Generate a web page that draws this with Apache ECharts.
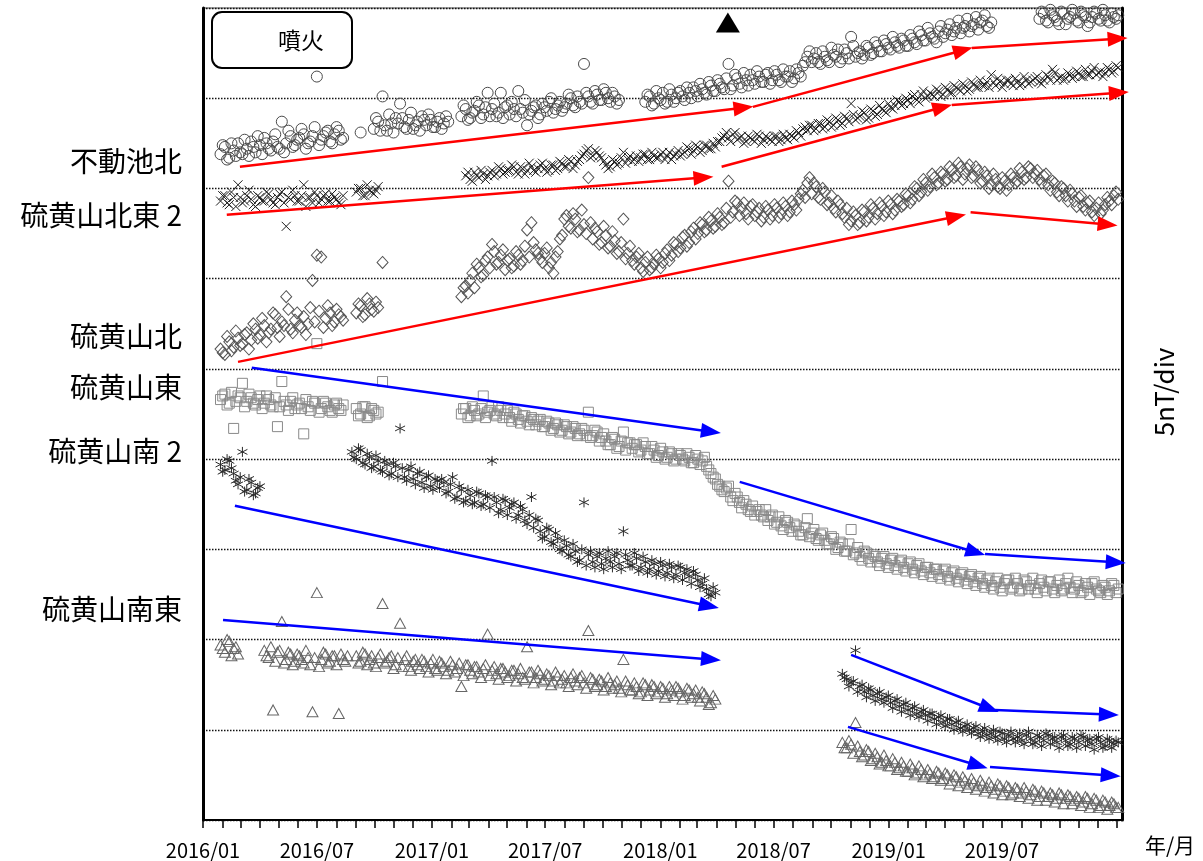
<!DOCTYPE html>
<html>
<head>
<meta charset="utf-8">
<script src="https://cdn.jsdelivr.net/npm/echarts@6/dist/echarts.min.js"></script>
<style>
  html, body { margin: 0; padding: 0; background: #fff; }
  #chart { width: 1203px; height: 861px; }
</style>
</head>
<body>
<div id="chart"></div>
<script>
// Magnetic total-force samples (nT, offset so each station sits in its own band).
// Each station is a list of segments: [first week index counted from 2016-01-01, values...],
// one value per week; the "Mid" lists hold the samples taken half a week later.
const fudoikeKita = [
  [4, [36.9,37.3,36.7,37.1,37.5,36.9,37.2,37.6,37.0,37.4,37.8,37.2,37.6,37.3,38.7,37.5,37.9,37.4,37.8,38.0,37.5,37.9,41.2,37.7,38.1,37.6,38.0,38.2,37.8]],
  [36, [38.1]],
  [39, [38.3,38.7,40.1,38.2,38.6,38.9,39.7,38.4,38.8,38.3,38.7,39.0,38.5,38.8,38.4,38.9,38.6,38.7]],
  [59, [39.0,39.4,38.9,39.3,39.6,39.1,40.3,39.4,39.0,40.3,39.5,39.1,39.4,40.4,39.2,38.5,39.3,39.6,39.1,39.5,39.8,39.2,39.6,39.3,39.7,40.0,39.5,39.8,41.9,40.1,39.7,40.2,39.9,40.3,39.8,40.1,39.9]],
  [101, [39.8,40.1,39.7,40.0,40.3,39.8,40.2,40.0,40.4,39.9,
         40.3,40.6,40.1,40.5,40.2,40.7,40.4,40.8,40.5,41.9,
         40.7,41.1,40.6,41.0,41.3,40.8,41.2,40.9,41.4,41.0,
         41.3,40.9,41.2,41.5,41.1,41.4,41.8,42.3,42.0,42.5,
         41.9,42.3,42.0,42.4,42.7,42.2,42.5,43.4,42.3,42.6,
         42.4,42.8,42.5,42.9,42.6,43.0,42.7,43.1,42.8,43.2,
         42.9,43.3,43.0,43.5,43.2,43.6,43.3,43.7,43.4,43.8,
         43.5,43.9,43.6,44.0,43.7,44.1,43.8,44.3,44.0,44.2]],
  [191, [44.4,44.7,44.2,44.6,44.3,44.8,44.1,44.5,44.7,44.2,44.6,44.0,44.5,44.7,44.3,44.6,44.2,44.5,44.6]]
];
const fudoikeKitaMid = [
  [4.5, [37.4,36.6,37.5,36.8,37.0,37.7,36.8,37.3,37.9,36.9,37.5,37.1,38.0,37.2,37.0,38.2,37.3,37.7,38.3,37.2,37.6,38.4,37.4,37.9,38.2,37.5,38.4,37.7]],
  [39.5, [38.9,38.2,38.5,39.1,38.1,38.6,38.9,38.3,39.2,38.5,38.2,38.8,39.1,38.4,38.7,38.3,39.0]],
  [59.5, [39.6,38.8,39.2,39.8,38.9,39.5,39.0,39.7,39.2,38.9,39.6,39.8,39.0,39.4,39.9,39.1,39.5,38.9,39.7,39.3,40.0,39.4,39.8,39.5,40.2,39.6,40.1,39.7,40.3,39.8,40.4,39.9,40.5,40.0,40.3,39.7]],
  [101.5, [40.2,39.6,40.4,39.9,39.7,40.5,39.8,40.3,40.1,40.6,
           40.0,40.4,40.8,40.3,40.9,40.4,41.0,40.6,41.1,40.5,
           41.3,40.8,41.4,40.7,41.0,41.5,40.9,41.3,40.8,41.5,
           41.0,41.6,41.2,40.9,41.6,41.2,42.0,42.6,42.2,42.0,
           42.6,42.1,42.8,42.3,42.0,42.7,42.2,42.9,42.5,42.2,
           42.9,42.4,43.1,42.6,43.2,42.8,43.4,42.9,43.3,42.9,
           43.5,43.1,43.7,43.2,43.9,43.4,43.1,44.0,43.6,44.1,
           43.7,44.3,43.9,44.4,44.0,44.5,44.2,44.6,43.9]],
  [191.5, [44.8,44.3,44.9,44.5,44.1,44.7,44.4,44.9,44.3,44.8,44.5,44.2,44.8,44.4,44.9,44.3,44.7,44.4]]
];

const iouzanHokuto2 = [
  [4, [34.3,34.6,34.1,34.5,35.2,34.2,34.6,34.4,34.0,34.5,34.3,34.7,34.2,34.5,34.8,32.9,34.4,34.6,34.3,35.2,34.5,34.2,34.6,34.4,34.7,34.3,34.5,34.2,34.6]],
  [35, [34.8,35.0,34.6,34.9,34.7,35.1]],
  [60, [35.7,35.5,35.9,35.6,35.8,35.7,36.0,35.8,36.1,35.9,
        36.0,36.2,35.8,36.1,36.0,36.2,35.9,36.3,36.1,36.0,
        36.3,36.1,36.4,36.2,36.5,36.3,36.6,36.9,37.2,36.8,
        37.0,36.7,36.3,36.2,36.5,36.4,37.0,36.6,36.5,36.8,
        36.7,36.9,36.6,36.8,36.7,37.0,36.8,36.6,36.9,36.8,
        37.0,37.2,37.1,37.3,37.1,37.4,37.2,37.3,37.6,37.9,
        37.8,38.0,37.7,37.9,37.6,37.8,37.6,37.9,37.7,37.8,
        37.6,37.9,37.7,37.8,38.0,37.8,38.1,38.3,38.2,38.5,
        38.3,38.6,38.4,38.7,38.5,38.8,38.6,38.9,39.7,38.8,
        39.0,39.2,38.9,39.3,39.1,39.4,39.2,39.5,39.6,39.8,
        39.7,39.9,40.1,39.9,40.2,40.0,40.3,40.1,40.4,40.2,
        40.5,40.3,40.6,40.4,40.7,40.5,40.8,40.6,40.7,40.9,
        41.3,40.7,40.9,40.8,41.0,40.7,40.9,40.8,41.0,40.9,
        41.1,40.9,41.0,41.2,41.6,41.0,41.2,41.1,41.3,41.2,
        41.4,41.2,41.3,41.5,41.3,41.5,41.4,41.6,41.5,41.7]]
];
const iouzanHokuto2Mid = [
  [4.5, [34.6,34.2,34.8,34.0,34.5,34.3,34.9,34.1,34.6,34.3,34.8,34.4,34.1,34.7,34.2,34.5,34.9,34.3,34.6,34.0,34.5,34.8,34.2,34.6,34.3,34.7,34.4,34.1]],
  [35.5, [35.0,34.6,35.2,34.8,34.9]],
  [60.5, [35.9,35.4,35.7,36.0,35.5,35.9,35.7,36.2,35.8,36.0,
          36.3,35.9,36.2,35.8,36.4,36.0,36.1,36.4,35.9,36.3,
          36.0,36.5,36.2,36.6,36.1,36.5,36.8,37.1,36.7,37.1,
          36.8,36.5,36.1,36.6,36.3,36.7,36.4,36.8,36.6,36.5,
          36.9,36.6,37.0,36.7,36.9,36.6,37.0,36.8,37.1,36.9,
          37.3,36.9,37.4,37.0,37.4,37.2,37.5,37.6,37.8,38.1,
          37.6,38.1,37.8,37.5,37.9,37.7,38.0,37.5,37.9,37.7,
          37.9,37.6,38.0,37.7,37.9,38.2,37.9,38.4,38.5,38.2,
          38.6,38.3,38.8,38.4,38.9,38.5,39.0,38.7,39.1,38.9,
          39.3,38.8,39.4,39.0,39.6,39.3,39.7,39.4,39.9,39.6,
          40.0,39.7,40.2,39.8,40.4,40.1,40.2,40.5,40.1,40.6,
          40.3,40.7,40.5,40.8,40.4,40.9,40.6,41.0,40.7,40.6,
          40.9,41.1,40.6,41.0,40.8,41.1,40.7,41.2,40.8,41.0,
          41.2,40.8,41.3,41.0,41.4,41.1,41.0,41.4,41.1,41.5,
          41.2,41.6,41.3,41.7,41.4,41.2,41.7,41.4,41.8]]
];

const iouzanKita = [
  [4, [26.1,25.8,26.5,26.2,26.7,26.4,27.0,26.6,27.2,26.9,27.4,27.0,28.1,27.3,27.6,29.0,27.2,27.7,27.4,27.9,27.5,29.9,31.3,31.2,27.8,28.1,27.6,28.0,27.7]],
  [35, [28.1,28.5,28.0,28.6,28.2,28.4,30.9]],
  [59, [29.0,29.6,29.9,29.5,30.6,30.2,31.2,31.9,30.8,31.3,
        30.5,31.1,30.7,31.3,31.0,32.7,33.1,31.6,31.1,31.4,
        30.6,30.3,31.5,32.4,33.5,32.8,33.3,32.7,33.0,35.6,
        32.2,32.6,32.0,32.4,31.8,32.1,31.5,33.3,31.4,31.0,
        31.2,30.6,30.9,30.5,30.8,31.1,30.9,31.6,31.3,31.9,
        31.7,32.4,32.0,32.8,32.5,33.0,32.7,33.2,32.9,33.4,
        33.1,35.4,33.7,34.2,33.9,33.6,34.0,33.5,33.9,33.4,
        33.8,33.5,33.9,33.6,34.0,33.7,34.1,34.4,34.9,35.3,
        34.7,35.1,34.4,34.8,34.2,33.9,34.3,33.6,33.9,33.2,
        33.5,33.1,33.7,33.4,33.9,33.6,34.0,33.7,34.1,33.8,
        34.3,34.1,34.6,34.4,35.0,34.8,35.3,35.1,35.6,35.3,
        35.8,35.5,36.0,35.7,36.2,35.8,36.3,35.7,36.0,35.4,
        35.7,35.2,35.5,35.0,35.4,35.2,35.6,35.4,35.9,35.6,
        36.1,35.8,35.5,35.7,35.2,35.4,34.8,35.1,34.6,34.9,
        34.3,34.5,34.0,34.2,33.7,33.9,33.6,34.1,34.3,34.6,
        34.4]]
];
const iouzanKitaMid = [
  [4.5, [25.9,26.8,26.0,27.1,26.3,26.9,26.1,27.5,26.7,27.8,26.5,27.2,28.0,26.8,27.4,28.3,27.0,28.1,27.3,26.9,28.4,27.6,28.2,27.3,28.5,27.4,28.3,27.9]],
  [35.5, [28.6,27.9,28.9,28.3,28.7]],
  [59.5, [29.5,29.2,30.3,30.8,30.1,31.0,30.6,31.5,30.9,31.6,
          31.0,30.6,31.5,30.8,31.8,31.2,32.0,31.4,30.9,31.7,
          30.9,31.2,32.2,33.3,32.9,33.6,32.6,33.8,32.5,33.1,
          32.8,31.9,32.9,31.7,32.6,31.4,32.0,31.1,31.8,30.8,
          31.4,30.4,31.2,30.6,31.3,30.6,31.4,31.0,32.0,31.5,
          32.3,31.8,32.6,32.2,33.1,32.6,33.4,32.8,33.6,33.0,
          33.9,33.4,34.3,33.5,34.2,33.3,34.1,33.7,33.2,34.0,
          33.3,34.1,33.4,34.2,33.5,34.3,33.8,34.7,34.5,35.6,
          35.3,34.5,35.0,34.1,34.6,33.7,34.1,33.4,33.0,33.7,
          33.0,33.8,33.2,34.1,33.3,34.2,33.5,34.3,33.6,34.4,
          34.0,34.7,34.2,35.1,34.6,35.5,34.9,35.8,35.2,35.9,
          35.4,36.2,35.6,36.4,35.5,36.1,35.6,36.2,35.3,35.9,
          35.0,35.8,35.1,35.6,34.9,35.8,35.3,36.1,35.5,36.2,
          35.6,36.0,35.3,35.8,34.9,35.3,34.6,35.0,34.3,34.7,
          34.0,34.6,33.8,34.3,33.5,34.2,33.8,34.5,34.1,34.8]]
];

const iouzanHigashi = [
  [4, [23.3,23.6,23.1,21.7,23.5,24.2,23.2,23.4,23.0,23.5,23.1,23.3,22.9,21.8,24.3,23.0,23.2,22.8,23.1,21.4,22.9,23.2,26.4,22.8,23.1,22.7,23.0,22.8,23.0]],
  [35, [22.8,22.5,22.9,22.4,22.7,22.6,24.3]],
  [59, [22.5,22.8,22.4,22.7,22.5,23.5,22.6,22.9,22.4,22.7,
        22.5,22.3,22.6,22.2,22.4,22.1,22.3,21.9,22.2,21.8,
        22.0,21.7,21.9,21.6,21.8,21.5,21.7,21.4,21.6,22.6,
        21.3,21.5,21.2,21.0,20.8,21.1,20.7,21.5,20.9,20.6,
        20.8,20.5,20.7,20.3,20.5,20.2,20.4,20.1,20.3,20.0,
        20.2,19.9,20.1,19.8,20.0,19.9,19.6,19.2,18.9,18.5,
        18.2,18.5,17.7,17.9,17.3,17.5,17.1,16.9,17.2,16.8,
        16.6,16.9,16.5,16.3,16.6,16.2,16.4,16.0,15.8,16.7,
        15.9,15.6,15.8,15.5,15.3,15.6,15.1,15.3,14.9,16.1,
        14.8,14.6,14.9,14.5,14.7,14.3,14.5,14.2,14.4,14.1,
        14.3,14.0,14.2,13.9,14.1,13.8,14.0,13.7,13.9,13.6,
        13.8,13.5,13.7,13.4,13.6,13.3,13.5,13.2,13.4,13.1,
        13.3,13.0,13.2,12.9,13.1,13.3,12.9,13.1,12.8,13.2,
        13.0,12.8,13.1,12.9,13.2,12.8,13.0,12.7,13.1,12.9,
        12.8,13.0,12.7,12.9,13.1,12.8,12.6,12.9,12.7,13.0,
        12.8]]
];
const iouzanHigashiMid = [
  [4.5, [23.5,23.0,23.7,23.2,23.4,22.9,23.6,23.1,23.3,22.8,23.5,23.0,23.4,22.9,23.2,22.7,23.4,23.0,22.8,23.3,22.7,23.1,22.6,23.2,22.9,22.6,23.1,22.7]],
  [35.5, [22.4,22.9,22.3,22.8,22.5]],
  [59.5, [22.8,22.3,22.9,22.4,22.8,22.3,22.7,22.5,22.9,22.3,
          22.7,22.1,22.5,22.0,22.4,21.9,22.2,22.1,21.8,22.1,
          21.6,22.0,21.5,21.9,21.4,21.8,21.3,21.7,21.3,21.2,
          21.6,21.0,21.4,20.8,21.2,20.6,21.0,20.5,20.9,20.8,
          20.4,20.9,20.3,20.7,20.1,20.6,20.0,20.4,19.9,20.3,
          20.0,20.3,19.8,20.2,19.7,20.1,19.4,19.0,18.6,18.3,
          18.4,17.9,18.1,17.6,17.7,17.2,17.4,17.1,16.9,17.2,
          16.8,16.4,16.8,16.1,16.5,16.0,16.3,15.8,16.2,15.7,
          16.1,15.5,15.9,15.3,15.7,15.0,15.4,14.9,15.3,14.7,
          15.1,14.4,14.8,14.3,14.6,14.1,14.6,14.0,14.5,13.9,
          14.4,13.8,14.3,13.7,14.2,13.6,14.0,13.5,13.9,13.4,
          13.9,13.3,13.8,13.2,13.7,13.1,13.6,13.0,13.5,12.9,
          13.4,12.8,13.4,12.7,13.3,12.8,13.4,12.7,13.3,12.8,
          13.4,12.6,13.3,12.7,13.2,12.6,13.3,12.8,13.4,12.6,
          13.2,12.6,13.1,12.5,13.2,12.7,13.0,12.5,13.1,12.6]]
];

const iouzanMinami2 = [
  [4, [19.7,19.4,19.9,19.2,18.6,20.4,18.3,18.7,18.1,18.5]],
  [34, [20.4,20.0,20.5,19.7,20.1,19.6,19.9,19.3,19.7,19.2,
        19.6,21.7,19.0,19.4,18.9,19.2,18.7,19.0,18.5,18.9,
        18.4,18.7,18.2,19.0,17.9,18.3,17.7,18.0,17.6,18.1,
        17.5,17.9,19.9,17.6,17.2,17.7,17.3,17.6,16.9,17.2,
        16.4,17.9,16.7,16.0,15.7,16.1,15.3,15.6,14.9,15.2,
        14.6,14.9,14.4,17.6,14.7,14.3,14.6,14.2,14.5,14.3,
        14.6,14.2,16.0,14.4,14.1,14.5,14.0,14.3,13.9,14.2,
        13.8,14.1,13.7,14.0,13.6,14.0,13.7,13.5,13.8,13.3,
        13.1,12.8,12.4,12.6]],
  [146, [8.1,7.8,7.6,9.4,7.4,7.1,7.3,6.9,7.0,6.7,
         6.8,6.5,6.6,6.3,6.4,6.1,6.2,5.9,6.0,5.8,
         5.9,5.6,5.7,5.4,5.6,5.3,5.4,5.1,5.2,5.0,
         5.1,4.8,4.9,4.7,4.8,4.6,4.9,4.5,4.7,4.5,
         4.6,4.4,4.7,4.5,4.3,4.6,4.4,4.7,4.5,4.3,
         4.6,4.4,4.2,4.5,4.3,4.6,4.4,4.2,4.5,4.3,
         4.1,4.4,4.2,4.3]]
];
const iouzanMinami2Mid = [
  [4.5, [19.3,20.0,19.5,18.8,19.0,18.2,18.9,18.0,18.4]],
  [34.5, [20.1,20.6,19.8,20.3,19.5,20.2,19.4,19.9,19.1,19.8,
          19.0,19.5,18.8,19.6,18.6,19.3,18.4,19.1,18.3,18.8,
          18.9,18.1,18.6,17.8,18.5,17.6,18.3,17.5,18.2,17.4,
          18.0,17.3,17.9,17.0,17.8,16.9,17.5,16.7,17.4,16.6,
          16.9,16.2,16.6,15.6,16.2,15.4,15.9,15.0,15.5,14.7,
          15.3,14.3,15.0,14.1,14.9,14.0,14.8,13.9,14.9,14.0,
          14.8,13.9,14.7,14.1,14.8,13.8,14.6,13.7,14.4,13.6,
          14.3,13.5,14.2,13.4,14.1,13.3,13.9,13.1,13.6,12.9,
          13.4,12.5,12.9]],
  [146.5, [7.9,7.4,7.7,7.1,7.5,6.8,7.2,6.6,7.1,6.5,
           6.9,6.2,6.7,6.0,6.5,5.8,6.3,5.7,6.1,5.5,
           5.9,5.3,5.8,5.2,5.6,5.0,5.5,4.9,5.3,4.8,
           5.2,4.6,5.1,4.5,5.0,4.4,4.8,4.3,4.9,4.3,
           4.8,4.2,4.9,4.2,4.7,4.1,4.8,4.2,4.6,4.0,
           4.7,4.1,4.6,4.0,4.7,4.1,4.5,3.9,4.6,4.0,
           4.5,4.0,4.4]]
];

const iouzanNantou = [
  [4, [9.7,9.3,9.9,9.5,9.2]],
  [14, [9.4,9.0,6.1,9.3,11.0,8.9,9.2,8.8,9.1,8.7,9.0,6.0,12.6,8.9,9.2,8.8,9.1,5.9,8.9,9.1]],
  [35, [9.1,8.8,9.2,8.9,8.7,9.0,12.0,8.8,9.1,8.6,
        10.9,8.9,8.5,8.8,8.6,8.9,8.5,8.7,8.4,8.8,
        8.5,8.3,8.6,8.4,7.4,8.6,8.3,8.5,8.2,8.4,
        10.3,8.3,8.1,8.4,8.2,8.0,8.3,8.1,7.9,9.6,
        8.2,7.9,8.1,7.8,8.0,7.7,8.0,7.8,7.6,7.9,
        7.7,7.9,7.6,10.5,7.8,7.5,7.7,7.4,7.6,7.5,
        7.3,8.9,7.5,7.2,7.4,7.1,7.5,7.2,7.4,7.1,
        7.3,7.0,7.2,7.4,7.1,6.9,7.2,7.0,6.8,7.1,
        6.8,6.5,6.7]],
  [146, [4.3,4.0,4.2,5.4,3.8,3.6,3.8,3.4,3.5,3.2,
         3.3,3.0,3.2,2.9,3.0,2.7,2.9,2.6,2.8,2.5,
         2.6,2.4,2.6,2.3,2.5,2.2,2.4,2.1,2.2,2.0,
         2.1,1.9,2.0,1.8,1.9,1.7,1.9,1.6,1.8,1.5,
         1.7,1.5,1.6,1.4,1.6,1.3,1.5,1.3,1.4,1.2,
         1.4,1.2,1.3,1.1,1.2,1.0,1.2,0.9,1.1,0.8,
         1.0,0.8,0.9,0.7]]
];
const iouzanNantouMid = [
  [4.5, [9.5,10.0,9.1,9.6]],
  [14.5, [9.1,9.6,8.8,9.4,8.7,9.3,8.6,9.2,8.9,9.4,8.6,9.0,8.5,9.3,8.7,9.1,8.6,9.2,8.8]],
  [35.5, [8.7,9.3,8.6,9.1,8.5,9.2,8.7,9.0,8.4,9.0,
          8.5,9.1,8.3,8.9,8.4,8.8,8.2,8.9,8.3,8.7,
          8.1,8.8,8.2,8.7,8.0,8.6,8.1,8.5,7.9,8.6,
          8.0,8.5,7.8,8.4,7.9,8.3,7.7,8.4,7.8,8.2,
          7.6,8.3,7.7,8.1,7.5,8.2,7.6,8.0,7.4,8.1,
          7.5,8.0,7.3,7.9,7.4,7.8,7.2,7.9,7.3,7.7,
          7.1,7.7,7.2,7.6,7.0,7.6,6.9,7.5,7.0,7.4,
          6.8,7.4,6.9,7.3,6.7,7.3,6.8,7.2,6.6,7.0,
          6.4,6.9]],
  [146.5, [4.0,4.4,3.7,4.1,3.5,3.9,3.3,3.7,3.1,3.6,
           3.0,3.4,2.8,3.2,2.7,3.1,2.5,3.0,2.4,2.8,
           2.3,2.7,2.2,2.6,2.0,2.5,1.9,2.4,1.8,2.3,
           1.7,2.2,1.6,2.1,1.5,2.0,1.4,1.9,1.4,1.8,
           1.3,1.8,1.2,1.7,1.1,1.6,1.1,1.5,1.0,1.5,
           0.9,1.4,0.9,1.3,0.8,1.3,0.7,1.2,0.7,1.1,
           0.6,1.0,0.7]]
];

const stationNames = ['不動池北', '硫黄山北東 2', '硫黄山北', '硫黄山東', '硫黄山南 2', '硫黄山南東'];

// Trend arrows: [start date, start nT, end date, end nT]
const redArrows = [
  ['2016-02-29', 36.20, '2018-05-14', 39.47],
  ['2018-05-29', 39.52, '2019-04-30', 42.66],
  ['2019-05-14', 42.79, '2020-01-02', 43.30],
  ['2016-02-08', 33.54, '2018-03-11', 35.60],
  ['2018-04-09', 36.20, '2019-03-28', 39.50],
  ['2019-04-12', 39.63, '2020-01-04', 40.30],
  ['2016-02-26', 25.39, '2019-04-19', 33.44],
  ['2019-05-12', 33.68, '2019-12-17', 33.00]
];
const blueArrows = [
  ['2016-03-19', 25.06, '2018-03-23', 21.52],
  ['2016-02-21', 17.41, '2018-03-20', 11.86],
  ['2018-05-08', 18.74, '2019-05-20', 14.84],
  ['2019-06-04', 14.74, '2019-12-30', 14.28],
  ['2016-02-02', 11.09, '2018-03-23', 8.90],
  ['2018-11-02', 9.15, '2019-06-11', 6.18],
  ['2019-06-20', 6.10, '2019-12-19', 5.84],
  ['2018-10-28', 5.16, '2019-05-24', 3.02],
  ['2019-06-12', 2.94, '2019-12-22', 2.47]
];

const eruptionDates = ['2018-04-19'];
const tickLabels = ['2016/01', '2016/07', '2017/01', '2017/07', '2018/01', '2018/07', '2019/01', '2019/07'];

// ---------------------------------------------------------------
const DAY = 86400000;
const T0 = Date.UTC(2016, 0, 1);
const XMAX = Date.UTC(2020, 0, 9);
const FONT = '"Noto Sans CJK JP", "Noto Sans", sans-serif';

function toDate(s) { return Date.parse(s + 'T00:00:00Z'); }
function toPoints(segments) {
  const pts = [];
  segments.forEach(([w0, vals]) => {
    vals.forEach((v, i) => pts.push([T0 + (w0 + i) * 7 * DAY, v]));
  });
  return pts;
}
function arrowData(list) {
  return list.map(a => ({ coords: [[toDate(a[0]), a[1]], [toDate(a[2]), a[3]]] }));
}

const labelTickValues = tickLabels.map(s => Date.UTC(+s.slice(0, 4), +s.slice(5) - 1, 1));
const monthTickValues = [];
for (let m = 0; m <= 48; m++) monthTickValues.push(Date.UTC(2016, m, 1));

const SYM_X = 'path://M0,0L10,10M0,10L10,0';
const SYM_STAR = 'path://M5,0L5,10M0.7,2.5L9.3,7.5M0.7,7.5L9.3,2.5';
const NOFILL = 'rgba(0,0,0,0)';

function markerSeries(name, weekly, mid, symbol, size, color) {
  return {
    name, type: 'scatter', data: toPoints(weekly).concat(toPoints(mid)), symbol, symbolSize: size,
    itemStyle: { color: NOFILL, borderColor: color, borderWidth: 1, opacity: 1 },
    silent: true, z: 2
  };
}

const chart = echarts.init(document.getElementById('chart'), null, { renderer: 'canvas' });

const option = {
  animation: false,
  backgroundColor: '#fff',
  grid: { left: 203, right: 81, top: 8, bottom: 41, show: true, borderColor: '#444', borderWidth: 1 },
  xAxis: {
    // dates as ms since epoch on a linear scale
    type: 'value', min: T0, max: XMAX,
    axisLine: { show: true, lineStyle: { color: '#000', width: 2 } },
    axisTick: { show: true, customValues: monthTickValues, length: 8, inside: false, lineStyle: { color: '#000', width: 1.5 } },
    axisLabel: {
      customValues: labelTickValues,
      formatter: v => { const i = labelTickValues.indexOf(v); return i >= 0 ? tickLabels[i] : ''; },
      fontSize: 20, color: '#000', fontFamily: FONT, margin: 20, hideOverlap: false
    },
    splitLine: { show: false }
  },
  yAxis: [
    {
      type: 'value', min: 0, max: 45, interval: 5, position: 'left',
      axisLine: { show: true, lineStyle: { color: '#000', width: 3 } },
      axisTick: { show: false }, axisLabel: { show: false },
      splitLine: { show: true, lineStyle: { color: '#111', type: [1.5, 1.5], width: 1.3 } }
    },
    {
      type: 'value', min: 0, max: 45, interval: 5, position: 'right',
      axisLine: { show: true, lineStyle: { color: '#000', width: 3 } },
      axisTick: { show: false }, axisLabel: { show: false }, splitLine: { show: false }
    }
  ],
  series: [
    markerSeries(stationNames[0], fudoikeKita, fudoikeKitaMid, 'circle', 11, '#4a4a4a'),
    markerSeries(stationNames[1], iouzanHokuto2, iouzanHokuto2Mid, SYM_X, 9, '#1e1e1e'),
    markerSeries(stationNames[2], iouzanKita, iouzanKitaMid, 'diamond', [11, 12], '#555'),
    markerSeries(stationNames[3], iouzanHigashi, iouzanHigashiMid, 'rect', 10, '#8a8a8a'),
    markerSeries(stationNames[4], iouzanMinami2, iouzanMinami2Mid, SYM_STAR, 10, '#2a2a2a'),
    markerSeries(stationNames[5], iouzanNantou, iouzanNantouMid, 'triangle', [11, 10], '#666'),
    {
      name: '噴火', type: 'scatter', symbol: 'triangle', symbolSize: [24, 20],
      data: eruptionDates.map(d => [toDate(d), 44.2]),
      itemStyle: { color: '#000', opacity: 1 }, silent: true, z: 4
    },
    {
      type: 'lines', coordinateSystem: 'cartesian2d', data: arrowData(redArrows),
      lineStyle: { color: '#ff0000', width: 2.5, opacity: 1, curveness: 0 },
      symbol: ['none', 'triangle'], symbolSize: [1, [15, 20]], clip: false, silent: true, z: 5
    },
    {
      type: 'lines', coordinateSystem: 'cartesian2d', data: arrowData(blueArrows),
      lineStyle: { color: '#0000ff', width: 2.5, opacity: 1, curveness: 0 },
      symbol: ['none', 'triangle'], symbolSize: [1, [15, 20]], clip: false, silent: true, z: 5
    }
  ]
};
chart.setOption(option);

// Station names sit left of the frame, level with their data bands.
const labelLevels = [36.5, 33.5, 26.8, 24.0, 20.45, 11.65];
const graphics = stationNames.map((name, i) => {
  const p = chart.convertToPixel({ gridIndex: 0 }, [T0, labelLevels[i]]);
  return {
    type: 'text', x: 182, y: p[1], z: 10,
    style: { text: name, font: '28px ' + FONT, fill: '#000', align: 'right', verticalAlign: 'middle' }
  };
});
graphics.push(
  {
    type: 'rect', z: 10,
    shape: { x: 212, y: 12, width: 140, height: 56, r: 10 },
    style: { fill: '#fff', stroke: '#000', lineWidth: 2 }
  },
  {
    type: 'text', x: 301, y: 40, z: 11,
    style: { text: '噴火', font: '23px ' + FONT, fill: '#000', align: 'center', verticalAlign: 'middle' }
  },
  {
    type: 'text', x: 1164, y: 392, rotation: Math.PI / 2, z: 10,
    style: { text: '5nT/div', font: '26px ' + FONT, fill: '#000', align: 'center', verticalAlign: 'middle' }
  },
  {
    type: 'text', x: 1170, y: 845, z: 10,
    style: { text: '年/月', font: '21px ' + FONT, fill: '#000', align: 'center', verticalAlign: 'middle' }
  }
);
chart.setOption({ graphic: graphics });
</script>
</body>
</html>
